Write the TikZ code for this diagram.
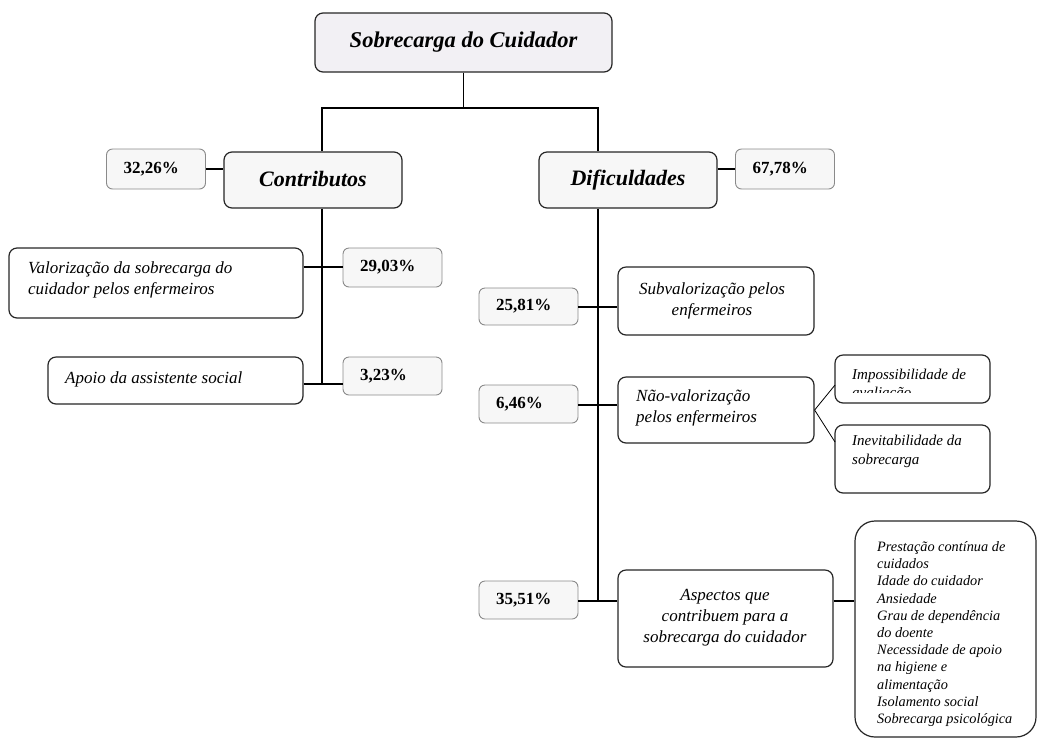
\documentclass[tikz,border=0pt]{standalone}
\usepackage{fontspec}
\setmainfont{Liberation Serif}
\definecolor{lav}{HTML}{F2F0F4}
\definecolor{pale}{HTML}{F7F7F7}
\definecolor{pgray}{HTML}{8A8A8A}
\begin{document}
\begin{tikzpicture}[x=1pt,y=-1pt,
  conn/.style={line width=1.2pt, draw=black},
  tbox/.style={draw=black!85, line width=1.2pt, rounded corners=8pt, fill=white, inner sep=0pt},
  headbox/.style={tbox, fill=pale, minimum width=178pt, minimum height=56pt, font=\fontsize{22}{26}\selectfont\bfseries\itshape},
  pbox/.style={draw=pgray, line width=0.9pt, rounded corners=6pt, fill=pale, minimum width=99pt, text width=65pt, inner xsep=17pt, inner ysep=0pt, align=left, font=\fontsize{17}{20}\selectfont\bfseries},
  txt/.style={inner sep=0pt, align=left, font=\fontsize{17}{21}\selectfont\itshape},
  smalltxt/.style={inner sep=0pt, align=left, font=\fontsize{15}{18.5}\selectfont\itshape},
  listtxt/.style={inner sep=0pt, align=left, font=\fontsize{14.3}{17.2}\selectfont\itshape}
]
\useasboundingbox (0,0) rectangle (1040,740);
\clip (0,0) rectangle (1040,740);

% boxes
\node[tbox, fill=lav, minimum width=297pt, minimum height=59pt, font=\fontsize{22.5}{26}\selectfont\bfseries\itshape] (top) at (463.5,42.5) {\raisebox{6pt}{Sobrecarga do Cuidador}};
\node[headbox] (contr) at (313,180) {\raisebox{3pt}{Contributos}};
\node[headbox] (dif) at (628,180) {\raisebox{3pt}{Dificuldades}};
\node[pbox, minimum height=40pt] (p3226) at (156,169) {\raisebox{-2pt}{32,26\%}};
\node[pbox, minimum height=40pt] (p6778) at (785,169) {\raisebox{-2pt}{67,78\%}};

\node[tbox, minimum width=294pt, minimum height=70pt] (val) at (156,283) {};
\node[pbox, minimum height=39pt] (p2903) at (392.5,267.5) {29,03\%};
\node[tbox, minimum width=255pt, minimum height=47pt] (ap) at (175.5,380.5) {};
\node[pbox, minimum height=38pt] (p323) at (392.5,376) {3,23\%};

\node[pbox, minimum height=37pt] (p2581) at (528.5,306.5) {\raisebox{-1pt}{25,81\%}};
\node[tbox, minimum width=196pt, minimum height=68pt] (sub) at (716,301) {};
\node[pbox, minimum height=38pt] (p646) at (528.5,404) {\raisebox{-1pt}{6,46\%}};
\node[tbox, minimum width=196pt, minimum height=66pt] (nv) at (716,410) {};
\node[tbox, minimum width=155pt, minimum height=48pt] (imp) at (912.5,379) {};
\node[tbox, minimum width=155pt, minimum height=68pt] (inev) at (912.5,459) {};
\node[pbox, minimum height=38pt] (p3551) at (528.5,600) {\raisebox{-1pt}{35,51\%}};
\node[tbox, minimum width=215pt, minimum height=97pt] (asp) at (725.5,618.5) {};
\node[tbox, rounded corners=20pt, minimum width=181pt, minimum height=216pt] (big) at (945.5,629) {};

% texts
\node[txt, anchor=west] (valt) at (28,280) {Valorização da sobrecarga do\\cuidador pelos enfermeiros};
\node[txt, anchor=west] (apt) at (65,379) {Apoio da assistente social};
\node[txt, align=center] (subt) at (712,301) {Subvalorização pelos\\enfermeiros};
\node[txt, anchor=west] (nvt) at (636,408) {Não-valorização\\pelos enfermeiros};
\begin{scope}
  \clip (835,355) rectangle (990,392);
  \node[smalltxt, anchor=west] (impt) at (852,385) {Impossibilidade de\\avaliação};
\end{scope}
\node[smalltxt, anchor=west] (inevt) at (852,451.5) {Inevitabilidade da\\sobrecarga};
\node[txt, align=center] (aspt) at (725,618) {Aspectos que\\contribuem para a\\sobrecarga do cuidador};
\node[listtxt, anchor=west] (bigt) at (877,634) {Prestação contínua de\\cuidados\\Idade do cuidador\\Ansiedade\\Grau de dependência\\do doente\\Necessidade de apoio\\na higiene e\\alimentação\\Isolamento social\\Sobrecarga psicológica};

% connectors
\coordinate (jl) at (322,108);
\coordinate (jr) at (598,108);
\draw[conn] (top.south) |- (jl) -- (jl |- contr.north);
\draw[conn] (top.south) |- (jr) -- (jr |- dif.north);
\draw[conn] (p3226.east) -- (contr.west |- p3226.east);
\draw[conn] (dif.east |- p6778.west) -- (p6778.west);

\coordinate (l1) at (322,267);
\coordinate (l2) at (322,384);
\draw[conn] (jl |- contr.south) -- (l2);
\draw[conn] (val.east |- l1) -- (p2903.west |- l1);
\draw[conn] (ap.east |- l2) -- (p323.west |- l2);

\coordinate (r1) at (598,307);
\coordinate (r2) at (598,405);
\coordinate (r3) at (598,601);
\draw[conn] (jr |- dif.south) -- (r3);
\draw[conn] (p2581.east |- r1) -- (sub.west |- r1);
\draw[conn] (p646.east |- r2) -- (nv.west |- r2);
\draw[conn] (p3551.east |- r3) -- (asp.west |- r3);
\draw[conn] (asp.east |- r3) -- (big.west |- r3);

\coordinate (e1) at (835,385);
\coordinate (e2) at (835,442);
\draw[line width=0.8pt] (nv.east) -- (e1);
\draw[line width=0.8pt] (nv.east) -- (e2);
\end{tikzpicture}
\end{document}
